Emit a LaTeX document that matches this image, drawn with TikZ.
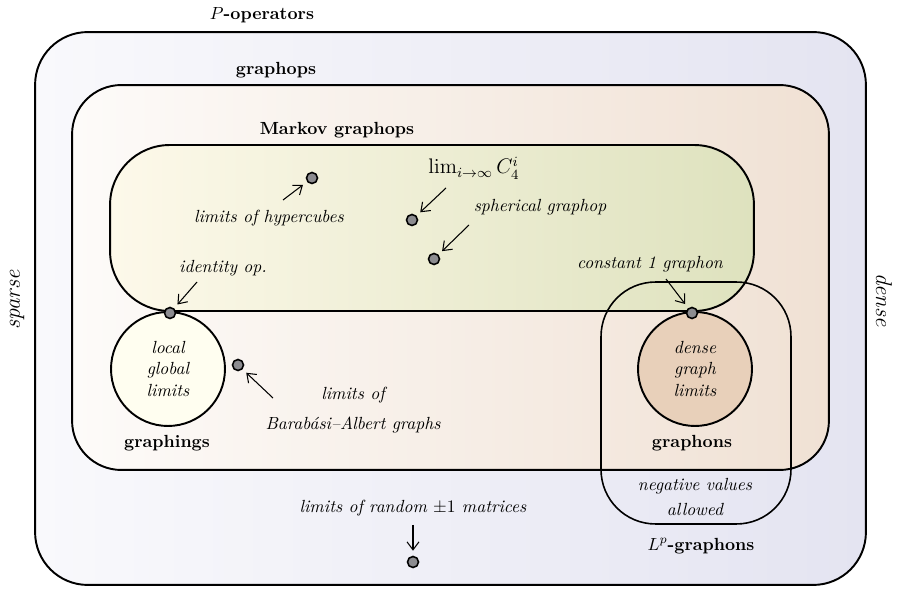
\documentclass[tikz,border=0pt]{standalone}
\usepackage{amsmath,amssymb}
\usepackage{tikz}
\usetikzlibrary{positioning, arrows.meta, calc}
\definecolor{opsL}{RGB}{249,249,252}
\definecolor{opsR}{RGB}{228,228,241}
\definecolor{gopL}{RGB}{253,251,249}
\definecolor{gopR}{RGB}{240,225,212}
\definecolor{mkvL}{RGB}{253,249,234}
\definecolor{mkvR}{RGB}{222,226,190}
\definecolor{cGr}{RGB}{255,254,240}
\definecolor{cDn}{RGB}{232,208,186}
\definecolor{cDot}{RGB}{140,140,144}

\begin{document}
\begin{tikzpicture}[x=0.02cm, y=-0.02cm, font=\normalsize,
    setbox/.style={draw, line width=1.1pt, rounded corners=#1, inner sep=0pt},
    setcirc/.style={draw, line width=1.1pt, circle, minimum size=2.28cm, inner sep=0pt, align=center, font=\itshape},
    dot/.style={draw, line width=0.9pt, circle, fill=cDot, minimum size=0.22cm, inner sep=0pt},
    setname/.style={font=\bfseries},
    note/.style={font=\itshape, align=center, inner sep=1pt},
    pin/.style={-{Straight Barb[length=1.6mm, width=2.4mm]}, line width=0.6pt, shorten >=0.1cm}]

    \useasboundingbox (0,0) rectangle (897,601);

    % Nested sets
    \node [setbox=30pt, left color=opsL, right color=opsR, minimum width=16.62cm, minimum height=11.06cm] (pops) at (450.5,308.5) {};
    \node [setbox=28pt, left color=gopL, right color=gopR, minimum width=15.14cm, minimum height=7.7cm] (graphops) at (450.5,277.5) {};
    \node [setbox=34pt, left color=mkvL, right color=mkvR, minimum width=12.88cm, minimum height=3.32cm] (markov) at (432,228) {};

    % Graphings and graphons
    \node [setcirc, fill=cGr] (graphings) at (168,369) {local\\global\\limits};
    \node [setcirc, fill=cDn] (dense) at (695,369) {dense\\graph\\limits};

    % L^p graphons (drawn over, no fill)
    \node [setbox=31pt, line width=0.9pt, minimum width=3.8cm, minimum height=4.84cm] (lp) at (696,403) {};

    % Set names
    \node [setname] (nPops) at (262,15) {$P$-operators};
    \node [setname] (nGraphops) at (276,70) {graphops};
    \node [setname] (nMarkov) at (337,130) {Markov graphops};
    \node [setname] (nGraphings) at (167,443) {graphings};
    \node [setname] (nGraphons) at (692,443) {graphons};
    \node [setname] (nLp) at (701,546) {$L^p$-graphons};
    \node [font=\fontsize{13}{15}\selectfont\itshape, rotate=90] (sparse) at (17,300) {sparse};
    \node [font=\fontsize{13}{15}\selectfont\itshape, rotate=-90] (denseside) at (884,300) {dense};

    % Example points
    \node [dot] (pId) at (170,313) {};
    \node [dot] (pConst) at (692,313) {};
    \node [dot] (pCube) at (312,178) {};
    \node [dot] (pCycle) at (412,220) {};
    \node [dot] (pSphere) at (434,259) {};
    \node [dot] (pBA) at (238,365) {};
    \node [dot] (pRand) at (413,562) {};

    % Point notes
    \node [note] (lCube) at (269,218) {limits of hypercubes};
    \node [font=\large, inner sep=1pt] (lCycle) at (474,168) {$\lim_{i\to\infty} C_4^i$};
    \node [note] (lSphere) at (540,207) {spherical graphop};
    \node [note] (lId) at (223,268) {identity op.};
    \node [note] (lConst) at (650,264) {constant 1 graphon};
    \node [note] (lBA) at (353,410) {limits of\\[5pt]Barab\'asi--Albert graphs};
    \node [note] (lRand) at (413,508) {limits of random $\pm 1$ matrices};
    \node [note] (lNeg) at (695,497) {negative values\\[2pt]allowed};

    % Arrow tails
    \coordinate (tCube) at (283,200);
    \coordinate (tCycle) at (446,188);
    \coordinate (tSphere) at (469,225);
    \coordinate (tId) at (197,282);
    \coordinate (tConst) at (666,279);
    \coordinate (tBA) at (273,398);
    \coordinate (tRand) at (413,525);

    \foreach \t/\p in {tCube/pCube, tCycle/pCycle, tSphere/pSphere, tId/pId, tConst/pConst, tBA/pBA, tRand/pRand}
        \draw [pin] (\t) -- (\p);
\end{tikzpicture}
\end{document}
